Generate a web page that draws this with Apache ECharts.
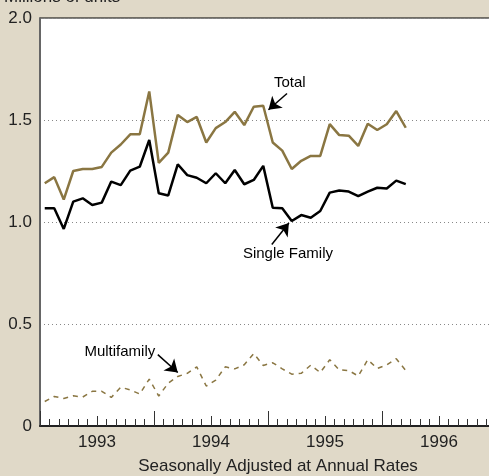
<!DOCTYPE html>
<html>
<head>
<meta charset="utf-8">
<script src="https://cdn.jsdelivr.net/npm/echarts@6/dist/echarts.min.js"></script>
<style>
  html, body { margin: 0; padding: 0; background: #e0d9c8; overflow: hidden; }
  /* plot runs past the right edge of the picture, so the canvas is a bit wider than the window */
  #chart { width: 500px; height: 476px; }
</style>
</head>
<body>
<div id="chart"></div>
<script>
    // monthly, Jan 1993 .. Mar 1996 (millions of units, SAAR)
    var startYear = 1993;
    var yearLabels = ['1993', '1994', '1995', '1996'];
    var totalStarts = [1.19, 1.22, 1.11, 1.25, 1.26, 1.26, 1.27, 1.34, 1.38, 1.43, 1.43, 1.64, 1.29,
                       1.34, 1.525, 1.49, 1.515, 1.39, 1.46, 1.49, 1.54, 1.475, 1.565, 1.57, 1.39,
                       1.35, 1.26, 1.30, 1.324, 1.324, 1.48, 1.426, 1.423, 1.373, 1.482, 1.451, 1.479, 1.544, 1.462];
    var singleFamily = [1.067, 1.067, 0.966, 1.10, 1.116, 1.083, 1.095, 1.198, 1.181, 1.252, 1.271, 1.402, 1.141,
                        1.13, 1.283, 1.23, 1.217, 1.19, 1.239, 1.19, 1.255, 1.185, 1.206, 1.275, 1.07,
                        1.067, 1.005, 1.034, 1.021, 1.054, 1.144, 1.154, 1.149, 1.127, 1.149, 1.168, 1.164, 1.203, 1.186];
    var multiFamily = [0.12, 0.145, 0.135, 0.148, 0.142, 0.17, 0.17, 0.14, 0.19, 0.177, 0.157, 0.23, 0.147,
                       0.21, 0.243, 0.258, 0.29, 0.196, 0.225, 0.29, 0.28, 0.30, 0.355, 0.297, 0.31,
                       0.28, 0.254, 0.258, 0.298, 0.262, 0.325, 0.275, 0.272, 0.245, 0.325, 0.282, 0.30, 0.33, 0.272];

    var olive = '#8a7642';
    var font = 'Liberation Sans, Arial';

    // x = months since Jan 1993, point drawn mid-month
    function toPoints(arr){
        return arr.map(function(v, i){ return [i + 0.5, v]; });
    }

    function baseX(interval, len){
        return {
            type: 'value', min: 0, max: 48, interval: interval, position: 'bottom',
            axisLine: { show: false },
            axisTick: { show: true, inside: true, length: len, lineStyle: { color: '#333', width: 1 } },
            axisLabel: { show: false },
            splitLine: { show: false }
        };
    }

    var xMonths = baseX(1, 7);
    xMonths.axisLine = { show: true, lineStyle: { color: '#222', width: 2 } };
    var xHalf = baseX(6, 10);
    xHalf.axisLabel = {
        show: true, margin: 8, color: '#222', fontSize: 17, fontFamily: font,
        formatter: function(v){
            if (v % 12 === 6) return yearLabels[(v - 6) / 12];
            return '';
        }
    };
    var xYear = baseX(12, 15);

    function note(text, at){
        return {
            symbolSize: 0, silent: true,
            label: { show: true, formatter: text, color: '#000', fontSize: 15, fontFamily: font },
            data: [{ coord: at }]
        };
    }
    function arrow(from, to){
        return {
            silent: true, symbol: ['none', 'arrow'], symbolSize: 12,
            lineStyle: { color: '#000', width: 1.5, type: 'solid' }, label: { show: false },
            data: [[{ coord: from }, { coord: to }]]
        };
    }

    var option = {
        animation: false,
        backgroundColor: '#e0d9c8',
        title: {
            text: 'Millions of units',
            left: 4, top: -11, padding: 0,
            textStyle: { fontSize: 17, fontWeight: 'normal', color: '#222', fontFamily: font }
        },
        grid: {
            left: 40, top: 18, right: 4, bottom: 50,
            show: true, backgroundColor: '#fff', borderColor: '#000', borderWidth: 1
        },
        graphic: [{
            type: 'text', x: 278, y: 466,
            style: {
                text: 'Seasonally Adjusted at Annual Rates',
                fill: '#222', fontSize: 17, fontFamily: font, align: 'center', verticalAlign: 'middle'
            }
        }],
        xAxis: [xMonths, xHalf, xYear],
        yAxis: {
            type: 'value', min: 0, max: 2, interval: 0.5,
            axisLine: { show: true, lineStyle: { color: '#666', width: 2 } },
            axisTick: { show: false },
            axisLabel: {
                color: '#222', fontSize: 17, margin: 8, fontFamily: font,
                formatter: function(v){ return v === 0 ? '0' : v.toFixed(1); }
            },
            splitLine: { show: true, lineStyle: { color: '#888', width: 1, type: [1, 3] } }
        },
        series: [
            {
                name: 'Total', type: 'line', xAxisIndex: 0, data: toPoints(totalStarts),
                showSymbol: false, lineStyle: { color: olive, width: 2.5 },
                markLine: arrow([26.0, 1.63], [24.05, 1.55]),
                markPoint: note('Total', [26.3, 1.68])
            },
            {
                name: 'Single Family', type: 'line', xAxisIndex: 0, data: toPoints(singleFamily),
                showSymbol: false, lineStyle: { color: '#000', width: 2.5 },
                markLine: arrow([24.4, 0.89], [26.2, 0.995]),
                markPoint: note('Single Family', [26.1, 0.845])
            },
            {
                name: 'Multifamily', type: 'line', xAxisIndex: 0, data: toPoints(multiFamily),
                showSymbol: false, lineStyle: { color: olive, width: 1.5, type: [5, 5] },
                markLine: arrow([12.4, 0.35], [14.5, 0.262]),
                markPoint: note('Multifamily', [8.4, 0.363])
            }
        ]
    };

    var myChart = echarts.init(document.getElementById('chart'));
    option && myChart.setOption(option);
</script>
</body>
</html>
